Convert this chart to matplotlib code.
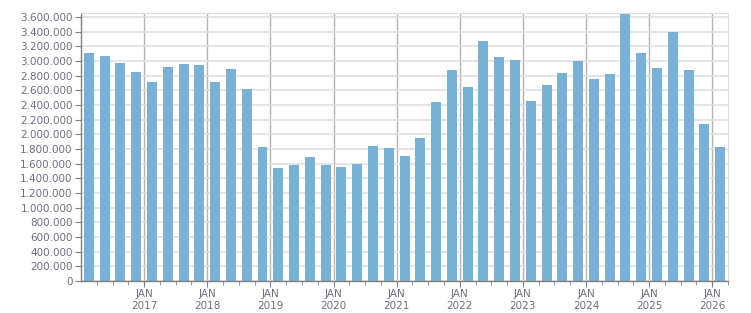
"""Quarterly bar chart, 2016 Q1 - 2026 Q1, with JAN year gridlines."""

import matplotlib

matplotlib.use("Agg")
import matplotlib.pyplot as plt
import numpy as np
from matplotlib.ticker import FixedLocator, FuncFormatter

# one bar per quarter, starting 2016 Q1
START_YEAR = 2016
values = [
    3110000, 3070000, 2975000, 2850000,  # 2016
    2715000, 2920000, 2960000, 2947000,  # 2017
    2715000, 2892000, 2619000, 1830000,  # 2018
    1541000, 1582000, 1691000, 1582000,  # 2019
    1555000, 1596000, 1841000, 1814000,  # 2020
    1705000, 1950000, 2441000, 2877000,  # 2021
    2646000, 3273000, 3055000, 3014000,  # 2022
    2455000, 2673000, 2837000, 3000000,  # 2023
    2755000, 2823000, 3641000, 3109000,  # 2024
    2905000, 3396000, 2877000, 2141000,  # 2025
    1827000,                             # 2026
]
years = list(range(2017, 2027))

BAR = "#78b1d3"
TXT = "#6e6e80"

# quarter mid-points in decimal years
x = START_YEAR + (np.arange(len(values)) + 0.5) / 4.0

fig = plt.figure(figsize=(7.51, 3.13), dpi=100)
ax = fig.add_axes([0.1079, 0.1022, 0.8615, 0.8553])
ax.bar(x, values, width=0.158, color=BAR, zorder=2)

ax.set_xlim(START_YEAR, START_YEAR + len(values) / 4.0)
ax.set_ylim(0, 3652000)

ax.yaxis.set_major_locator(FixedLocator(np.arange(0, 3600001, 200000)))
ax.yaxis.set_major_formatter(FuncFormatter(lambda v, _: f"{int(v):,}".replace(",", ".")))
ax.xaxis.set_major_locator(FixedLocator(years))
ax.xaxis.set_major_formatter(FuncFormatter(lambda v, _: f"JAN\n{int(round(v))}"))
minor = [START_YEAR + q / 4.0 for q in range(1, len(values) + 1) if q % 4]
ax.xaxis.set_minor_locator(FixedLocator(minor))

ax.grid(axis="y", color="#dddddd", lw=1.1, zorder=0)
ax.grid(axis="x", which="major", color="#b4b4b4", lw=1.0, zorder=0)
ax.set_axisbelow(True)

for s in ("top", "right"):
    ax.spines[s].set_color("#dddddd")
for s in ("left", "bottom"):
    ax.spines[s].set_color("#808080")
    ax.spines[s].set_linewidth(1.0)

ax.tick_params(axis="y", length=4, color="#808080", labelsize=7.5, labelcolor=TXT, pad=2)
ax.tick_params(axis="x", which="major", length=4, color="#808080", labelsize=7.5,
               labelcolor=TXT, pad=2)
ax.tick_params(axis="x", which="minor", length=3, color="#808080")
for lab in ax.get_xticklabels():
    lab.set_linespacing(1.2)

fig.savefig("out.png", dpi=100)
